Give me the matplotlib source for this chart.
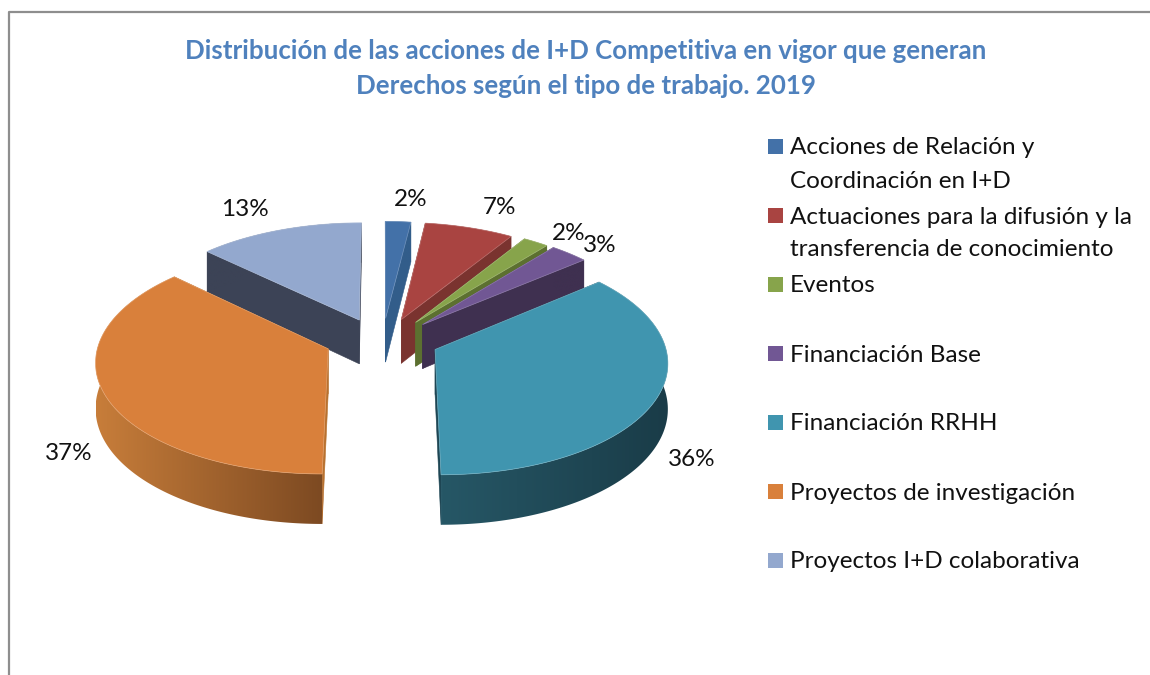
"""
Tarta 3D con porciones separadas: acciones de I+D Competitiva por tipo de trabajo.
"""

import numpy as np
import matplotlib
matplotlib.use("Agg")
import matplotlib.pyplot as plt
from matplotlib.colors import to_rgb
from matplotlib.lines import Line2D
from matplotlib.patches import Polygon, Rectangle

plt.rcParams["font.family"] = ["Lato", "DejaVu Sans"]

categorias = [
    "Acciones de Relación y\nCoordinación en I+D",
    "Actuaciones para la difusión y la\ntransferencia de conocimiento",
    "Eventos",
    "Financiación Base",
    "Financiación RRHH",
    "Proyectos de investigación",
    "Proyectos I+D colaborativa",
]
valores = [2, 7, 2, 3, 36, 37, 13]

colores = ["#4371A8", "#A94441", "#87A44B", "#715794", "#4095AF", "#D9803B", "#93A8CE"]
pared_radial = ["#325D8A", "#7A332F", "#5C7030", "#3F3050", "#1E4654", "#B8712F", "#3C4356"]
pared_clara = ["#325D8A", "#7A332F", "#5C7030", "#3F3050", "#265766", "#C77D3A", "#3C4356"]
pared_oscura = ["#325D8A", "#7A332F", "#5C7030", "#3F3050", "#1A3C48", "#7D4A22", "#3C4356"]

# pixeles de la imagen
CX, CY = 382, 340
A, B = 229, 110.7
K = 0.10
ALTO = 44.6
SEP_X, SEP_Y = 0.254, 0.20

pos_etiquetas = [(411, 200), (500, 208), (569, 233), (600, 246), (692, 459), (69, 454), (245, 210)]
pos_leyenda = [146, 215, 284, 353, 422, 491, 560]


def proy(X, Y, z=0.0):
    s = 1 / (1 + K * Y)
    return CX + A * X * s, CY - B * Y * s + z * ALTO * s


def porcion(ax, ini, fin, i, zorder):
    ang = np.radians(np.linspace(ini, fin, max(int(fin - ini) * 2, 6)))
    med = np.radians((ini + fin) / 2)
    ox, oy = SEP_X * np.sin(med), SEP_Y * np.cos(med)
    X = ox + np.sin(ang)
    Y = oy + np.cos(ang)

    # paredes radiales
    for xb, yb in ((X[0], Y[0]), (X[-1], Y[-1])):
        pts = [proy(ox, oy), proy(xb, yb), proy(xb, yb, 1), proy(ox, oy, 1)]
        ax.add_patch(Polygon(pts, closed=True, fc=pared_radial[i], ec=pared_radial[i], lw=0.4, zorder=zorder))

    # pared exterior con degradado
    xs, ys = proy(X, Y)
    xi, yi = proy(X, Y, 1)
    pared = Polygon(list(zip(xs, ys)) + list(zip(xi[::-1], yi[::-1])), closed=True,
                    fc="none", ec="none", transform=ax.transData)
    ax.add_patch(pared)
    clara, oscura = np.array(to_rgb(pared_clara[i])), np.array(to_rgb(pared_oscura[i]))
    t = np.linspace(0, 1, 64)[None, :, None]
    franja = clara + (oscura - clara) * t
    im = ax.imshow(franja, extent=(xs.min(), xs.max(), yi.max(), ys.min()), aspect="auto",
                   interpolation="bilinear", zorder=zorder + 0.2)
    im.set_clip_path(pared)

    # cara superior
    pts = [proy(ox, oy)] + list(zip(xs, ys))
    borde = np.array(to_rgb(colores[i])) * 0.75 + 0.25
    ax.add_patch(Polygon(pts, closed=True, fc=colores[i], ec=borde, lw=0.5, zorder=zorder + 0.5))


fig = plt.figure(figsize=(11.5, 6.75), dpi=100)
ax = fig.add_axes([0, 0, 1, 1])
ax.axis("off")

ax.add_line(Line2D([9, 9, 1150], [675, 12, 12], color="#8E8E8E", lw=1.6))

ax.text(586, 51, "Distribución de las acciones de I+D Competitiva en vigor que generan",
        ha="center", va="center", fontsize=18.6, fontweight="bold", color="#4F81BD")
ax.text(586, 86, "Derechos según el tipo de trabajo. 2019",
        ha="center", va="center", fontsize=18.6, fontweight="bold", color="#4F81BD")

cortes = np.concatenate([[0], np.cumsum(valores)]) * 360 / sum(valores)
orden = [6, 0, 1, 2, 3, 4, 5]
for z, i in enumerate(orden):
    porcion(ax, cortes[i], cortes[i + 1], i, 2 + z)

for val, (x, y) in zip(valores, pos_etiquetas):
    ax.text(x, y, f"{val}%", ha="center", va="center", fontsize=17.5, color="#111111", zorder=20)

for cat, col, y in zip(categorias, colores, pos_leyenda):
    ax.add_patch(Rectangle((768, y - 7.5), 15, 15, fc=col, ec="none"))
    for k, linea in enumerate(cat.split("\n")):
        ax.text(790, y + 2 + k * 33, linea, ha="left", va="center", fontsize=17.5, color="#111111")

ax.set_xlim(0, 1150)
ax.set_ylim(675, 0)
fig.savefig("out.png", dpi=100)
